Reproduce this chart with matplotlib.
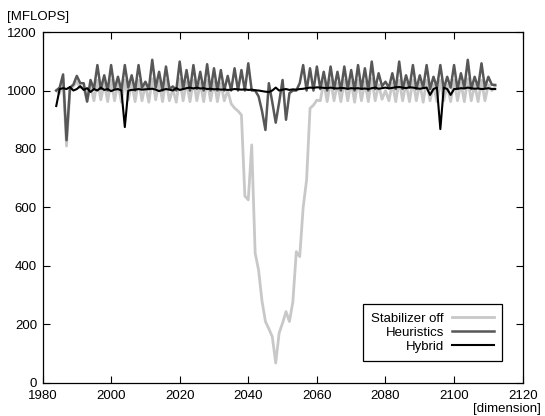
import matplotlib
matplotlib.use("Agg")
import matplotlib.pyplot as plt
import numpy as np

plt.rcParams['font.family'] = ['Liberation Sans', 'DejaVu Sans']

dimension = list(range(1984, 2113))

heuristics = [
    1000, 1010, 1055, 830, 1010, 1020, 1050, 1025, 1025, 962,      # 1984-1993
    1036, 1005, 1087, 1005, 1052, 1000, 1087, 1005, 1047, 1000,    # 1994-2003
    1087, 1010, 1052, 1000, 1087, 1010, 1030, 1005, 1105, 1010,    # 2004-2013
    1064, 1000, 1082, 1005, 1014, 1000, 1099, 1005, 1070, 1000,    # 2014-2023
    1087, 1005, 1064, 1000, 1090, 1000, 1076, 1000, 1070, 1000,    # 2024-2033
    1050, 1000, 1076, 1000, 1070, 1000, 1093, 1000, 1000, 980,     # 2034-2043
    930, 865, 1025, 960, 890, 960, 1036, 900, 991, 1000,           # 2044-2053
    1000, 1025, 1087, 1000, 1076, 1000, 1082, 1005, 1064, 1000,    # 2054-2063
    1082, 1005, 1064, 1000, 1082, 1005, 1070, 1000, 1087, 1005,    # 2064-2073
    1076, 1000, 1099, 1005, 1059, 1015, 1030, 1010, 1059, 1005,    # 2074-2083
    1099, 1005, 1052, 1010, 1087, 1005, 1052, 1010, 1087, 1005,    # 2084-2093
    1047, 1010, 1087, 1005, 1047, 1010, 1087, 1005, 1059, 1010,    # 2094-2103
    1105, 1005, 1047, 1010, 1093, 1010, 1047, 1020, 1019,          # 2104-2112
]

stabilizer_off = [
    1000, 990, 1040, 810, 1000, 1015, 1030, 1010, 1010, 965,       # 1984-1993
    1020, 965, 1035, 968, 1025, 962, 1035, 965, 1025, 960,         # 1994-2003
    1035, 968, 1025, 962, 1035, 965, 1020, 960, 1040, 968,         # 2004-2013
    1030, 962, 1035, 965, 1005, 960, 1040, 965, 1030, 962,         # 2014-2023
    1035, 965, 1025, 962, 1035, 965, 1030, 962, 1025, 965,         # 2024-2033
    1000, 955, 940, 930, 916, 639, 626, 814, 444, 386,             # 2034-2043
    280, 210, 185, 158, 68, 171, 205, 244, 210, 278,               # 2044-2053
    449, 432, 600, 694, 939, 950, 967, 965, 1030, 962,             # 2054-2063
    1035, 965, 1025, 962, 1035, 965, 1030, 960, 1035, 965,         # 2064-2073
    1030, 962, 1040, 965, 1020, 970, 1000, 965, 1025, 962,         # 2074-2083
    1035, 965, 1025, 962, 1035, 965, 1025, 960, 1035, 965,         # 2084-2093
    1020, 962, 1035, 965, 1020, 962, 1035, 965, 1025, 962,         # 2094-2103
    1040, 965, 1020, 962, 1035, 965, 1020, 1000, 1015,             # 2104-2112
]

hybrid = [
    947, 1005, 1008, 1005, 1012, 1000, 1005, 1015, 1002, 1008,     # 1984-1993
    995, 1005, 1000, 1010, 1002, 1005, 998, 1003, 1005, 1000,      # 1994-2003
    875, 1000, 1002, 1003, 1005, 1003, 1004, 1005, 1006, 1003,     # 2004-2013
    998, 1002, 1005, 1003, 1000, 1008, 1002, 1005, 1008, 1010,     # 2014-2023
    1007, 1010, 1007, 1008, 1005, 1006, 1004, 1005, 1003, 1004,    # 2024-2033
    1002, 1003, 1005, 1004, 1003, 1004, 1002, 1003, 1001, 1000,    # 2034-2043
    998, 996, 995, 1000, 1010, 1000, 1003, 1005, 1002, 1004,       # 2044-2053
    1003, 1005, 1006, 1008, 1010, 1009, 1011, 1010, 1009, 1008,    # 2054-2063
    1010, 1008, 1007, 1009, 1008, 1006, 1008, 1007, 1008, 1006,    # 2064-2073
    1007, 1005, 1008, 1010, 1006, 1008, 1010, 1007, 1009, 1011,    # 2074-2083
    1012, 1010, 1008, 1011, 1010, 1008, 1006, 1008, 1010, 985,     # 2084-2093
    1005, 1010, 868, 1010, 1005, 985, 1005, 1006, 1008, 1007,      # 2094-2103
    1010, 1008, 1006, 1007, 1005, 1006, 1008, 1005, 1005,          # 2104-2112
]

x_ticks = [1980, 2000, 2020, 2040, 2060, 2080, 2100, 2120]
y_ticks = [0, 200, 400, 600, 800, 1000, 1200]

fig = plt.figure(figsize=(5.45, 4.16), dpi=100)
ax = fig.add_axes([0.078, 0.0795, 0.881, 0.8435])

ax.plot(dimension, stabilizer_off, color='#c8c8c8', lw=2.0, label='Stabilizer off')
ax.plot(dimension, heuristics, color='#575757', lw=1.8, label='Heuristics')
ax.plot(dimension, hybrid, color='#000000', lw=1.5, label='Hybrid')

ax.set_xlim(1980, 2120)
ax.set_ylim(0, 1200)
ax.set_xticks(x_ticks)
ax.set_yticks(y_ticks)
ax.tick_params(direction='in', top=True, right=True, length=5, width=0.8,
               labelsize=9.5, colors='black')
ax.tick_params(axis='x', pad=5)
ax.tick_params(axis='y', pad=4)
for s in ax.spines.values():
    s.set_linewidth(0.9)

leg = ax.legend(loc='lower right', bbox_to_anchor=(0.957, 0.0627), borderaxespad=0,
                markerfirst=False, fontsize=9.5, fancybox=False, framealpha=1,
                edgecolor='black', handlelength=3.2, handletextpad=0.6,
                labelspacing=0.15, borderpad=0.6)
leg.get_frame().set_linewidth(0.9)

fig.text(0.013, 0.958, '[MFLOPS]', fontsize=9.5, ha='left', va='center')
fig.text(0.992, 0.017, '[dimension]', fontsize=9.5, ha='right', va='center')

fig.savefig('out.png', dpi=100)
